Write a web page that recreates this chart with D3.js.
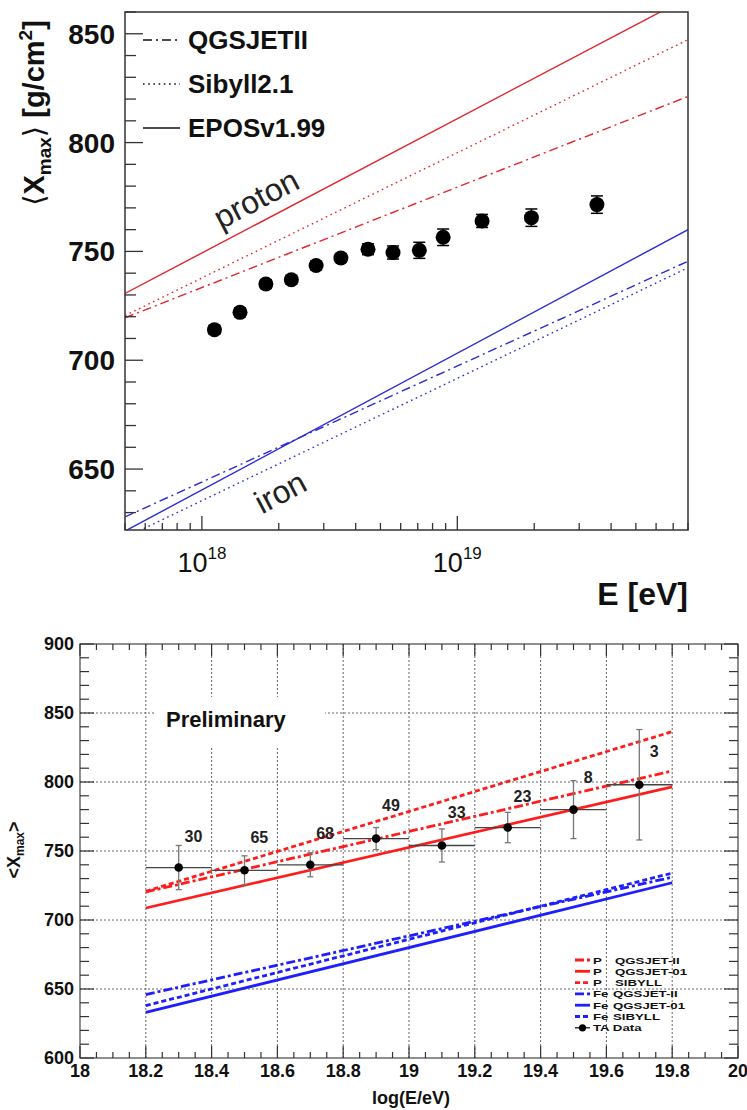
<!DOCTYPE html>
<html>
<head>
<meta charset="utf-8">
<script src="https://cdn.jsdelivr.net/npm/d3@7"></script>
<style>
  body { margin: 0; background: #fff; }
  svg { display: block; }
  text { font-family: "Liberation Sans", Arial, Helvetica, sans-serif; }
</style>
</head>
<body>
<svg id="chart" width="747" height="1110"></svg>
<script>
// ---- top panel: <Xmax> vs E, model lines + data ----
const augerE = [1.12e18, 1.41e18, 1.78e18, 2.24e18, 2.8e18, 3.5e18, 4.47e18, 5.6e18, 7.1e18, 8.8e18, 1.25e19, 1.95e19, 3.52e19];
const augerXmax = [714, 722, 735, 737, 743.5, 747, 751, 749.5, 750.5, 756.5, 764, 765.5, 771.5];
const augerErr = [2, 2, 2, 2, 2, 2, 2.5, 3, 3.7, 3.8, 3, 4, 4];

const modelE = [5e17, 8e19];
const protonEPOS = [730.7, 866.7];
const protonSibyll = [720.5, 847.3];
const protonQGSJET = [719.5, 821.2];
const ironEPOS = [621.5, 760];
const ironQGSJET = [628, 745.5];
const ironSibyll = [618.5, 742.5];

const topYTicks = [650, 700, 750, 800, 850];
const topLegend = ["QGSJETII", "Sibyll2.1", "EPOSv1.99"];

// ---- bottom panel: TA data vs log(E/eV) ----
const taLogE = [18.3, 18.5, 18.7, 18.9, 19.1, 19.3, 19.5, 19.7];
const taXmax = [738, 736, 740, 759, 754, 767, 780, 798];
const taErr = [16, 10.5, 8.7, 8, 12, 11, 21, 40];
const taCounts = [30, 65, 68, 49, 33, 23, 8, 3];
const countY = [761, 760, 763, 783, 778, 790, 803.5, 822];

const modelLogE = [18.2, 19.8];
const pQGSII = [720.3, 808];
const pQGS01 = [708.7, 796.5];
const pSIB = [720.8, 836.5];
const feQGSII = [646, 731];
const feQGS01 = [633, 727];
const feSIB = [638, 734];

const bottomXTicks = [18, 18.2, 18.4, 18.6, 18.8, 19, 19.2, 19.4, 19.6, 19.8, 20];
const bottomYTicks = [600, 650, 700, 750, 800, 850, 900];
const bottomLegend = [
  ["P", "QGSJET-II"], ["P", "QGSJET-01"], ["P", "SIBYLL"],
  ["Fe", "QGSJET-II"], ["Fe", "QGSJET-01"], ["Fe", "SIBYLL"], ["TA Data", ""]
];

const svg = d3.select("#chart");

const RED = "#e2252d", BLUE = "#2b2bd6";
const DOT = "1.6,3.6", DASHDOT = "9,4,2,4";

// ================= top =================
const tx = d3.scaleLog().domain([5e17, 8e19]).range([125, 688]);
const ty = d3.scaleLinear().domain([622, 860]).range([530, 12]);

svg.append("clipPath").attr("id", "clipTop")
  .append("rect").attr("x", 125).attr("y", 12).attr("width", 563).attr("height", 518);

const topG = svg.append("g");
const topLines = topG.append("g").attr("clip-path", "url(#clipTop)");

const tline = d3.line().x((d, i) => tx(modelE[i])).y(d => ty(d));
[
  [protonEPOS, RED, null], [protonSibyll, RED, DOT], [protonQGSJET, RED, DASHDOT],
  [ironEPOS, BLUE, null], [ironSibyll, BLUE, DOT], [ironQGSJET, BLUE, DASHDOT]
].forEach(([vals, col, dash]) => {
  topLines.append("path")
    .attr("d", tline(vals))
    .attr("fill", "none")
    .attr("stroke", col)
    .attr("stroke-width", 1.4)
    .attr("stroke-dasharray", dash);
});

// data points
const pts = topG.append("g");
augerE.forEach((e, i) => {
  const x = tx(e), y0 = ty(augerXmax[i] - augerErr[i]), y1 = ty(augerXmax[i] + augerErr[i]);
  pts.append("line").attr("x1", x).attr("x2", x).attr("y1", y0).attr("y2", y1)
    .attr("stroke", "#000").attr("stroke-width", 1.5);
  [y0, y1].forEach(y => pts.append("line").attr("x1", x - 6).attr("x2", x + 6)
    .attr("y1", y).attr("y2", y).attr("stroke", "#000").attr("stroke-width", 1.5));
  pts.append("circle").attr("cx", x).attr("cy", ty(augerXmax[i])).attr("r", 7.5).attr("fill", "#000");
});

// frame
topG.append("rect").attr("x", 125).attr("y", 12).attr("width", 563).attr("height", 518)
  .attr("fill", "none").attr("stroke", "#333").attr("stroke-width", 1.5);

// y ticks (inward)
d3.range(630, 861, 10).forEach(v => {
  const major = v % 50 === 0;
  topG.append("line").attr("x1", 125).attr("x2", 125 + (major ? 18 : 11))
    .attr("y1", ty(v)).attr("y2", ty(v)).attr("stroke", "#333").attr("stroke-width", 1.3);
});
topYTicks.forEach(v => {
  topG.append("text").attr("x", 115).attr("y", ty(v)).attr("dy", "0.36em")
    .attr("text-anchor", "end").attr("font-size", 28).attr("font-weight", "bold")
    .attr("fill", "#111").text(v);
});

// x ticks (log)
const xMinor = [];
[17, 18, 19].forEach(dec => d3.range(1, 10).forEach(m => {
  const e = m * Math.pow(10, dec);
  if (e >= 5e17 && e <= 8e19) xMinor.push(e);
}));
xMinor.forEach(e => {
  const major = Math.abs(Math.log10(e) - Math.round(Math.log10(e))) < 1e-9;
  topG.append("line").attr("x1", tx(e)).attr("x2", tx(e))
    .attr("y1", 530).attr("y2", 530 - (major ? 14 : 7))
    .attr("stroke", "#333").attr("stroke-width", 1.3);
});
[1e18, 1e19].forEach(e => {
  const t = topG.append("text").attr("x", tx(e)).attr("y", 572)
    .attr("text-anchor", "middle").attr("font-size", 27).attr("fill", "#111");
  t.append("tspan").text("10");
  t.append("tspan").attr("font-size", 17).attr("dy", -13).text(Math.round(Math.log10(e)));
});

// axis titles
topG.append("text").attr("x", 688).attr("y", 605).attr("text-anchor", "end")
  .attr("font-size", 32).attr("font-weight", "bold").attr("fill", "#111").text("E [eV]");

const yt = topG.append("text").attr("transform", "translate(44,113) rotate(-90)")
  .attr("text-anchor", "middle").attr("font-size", 29).attr("font-weight", "bold").attr("fill", "#111");
yt.append("tspan").attr("font-weight", "normal").attr("font-family", "DejaVu Sans").text("\u27E8");
yt.append("tspan").text("X");
yt.append("tspan").attr("font-size", 19).attr("dy", 7).text("max");
yt.append("tspan").attr("dy", -7).attr("font-weight", "normal").attr("font-family", "DejaVu Sans").text("\u27E9");
yt.append("tspan").text(" [g/cm");
yt.append("tspan").attr("font-size", 19).attr("dy", -12).text("2");
yt.append("tspan").attr("dy", 12).text("]");

// legend
const legDash = [DASHDOT, DOT, null];
topLegend.forEach((name, i) => {
  const y = 40 + i * 44;
  topG.append("line").attr("x1", 143).attr("x2", 180).attr("y1", y).attr("y2", y)
    .attr("stroke", "#111").attr("stroke-width", 1.4).attr("stroke-dasharray", legDash[i]);
  topG.append("text").attr("x", 188).attr("y", y).attr("dy", "0.36em")
    .attr("font-size", 26).attr("font-weight", "bold").attr("fill", "#111").text(name);
});

// annotations
topG.append("text").attr("transform", `translate(${tx(1.64e18)},${ty(773.6)}) rotate(-27.7)`)
  .attr("text-anchor", "middle").attr("dy", "0.3em").attr("font-size", 32).attr("fill", "#222").text("proton");
topG.append("text").attr("transform", `translate(${tx(2.04e18)},${ty(638.8)}) rotate(-28)`)
  .attr("text-anchor", "middle").attr("dy", "0.3em").attr("font-size", 32).attr("fill", "#222").text("iron");

// ================= bottom =================
const bx = d3.scaleLinear().domain([18, 20]).range([80, 738]);
const by = d3.scaleLinear().domain([600, 900]).range([1058, 644]);
const bot = svg.append("g");

// grid
const grid = bot.append("g").attr("stroke", "#555").attr("stroke-width", 0.9).attr("stroke-dasharray", "2,2");
bottomXTicks.slice(1, -1).forEach(v => grid.append("line")
  .attr("x1", bx(v)).attr("x2", bx(v)).attr("y1", 644).attr("y2", 1058));
bottomYTicks.slice(1, -1).forEach(v => grid.append("line")
  .attr("x1", 80).attr("x2", 738).attr("y1", by(v)).attr("y2", by(v)));

// "Preliminary" label on a white box
bot.append("rect").attr("x", 155).attr("y", 697).attr("width", 170).attr("height", 49).attr("fill", "#fff");
bot.append("text").attr("x", 166).attr("y", 727).attr("font-size", 22).attr("font-weight", "bold")
  .attr("fill", "#111").text("Preliminary");

// model lines
const bline = d3.line().x((d, i) => bx(modelLogE[i])).y(d => by(d));
const BRED = "#ff1c1c", BBLUE = "#1e1eff";
const BDASH = "5,3", BDASHDOT = "9,3,3,3";
const bModels = [
  [pQGSII, BRED, BDASHDOT], [pQGS01, BRED, null], [pSIB, BRED, BDASH],
  [feQGSII, BBLUE, BDASHDOT], [feQGS01, BBLUE, null], [feSIB, BBLUE, BDASH]
];
bModels.forEach(([vals, col, dash]) => {
  bot.append("path").attr("d", bline(vals)).attr("fill", "none")
    .attr("stroke", col).attr("stroke-width", 2.8).attr("stroke-dasharray", dash);
});

// data with error bars
taLogE.forEach((l, i) => {
  const x = bx(l), y = by(taXmax[i]);
  const ylo = by(taXmax[i] - taErr[i]), yhi = by(taXmax[i] + taErr[i]);
  bot.append("line").attr("x1", bx(l - 0.1)).attr("x2", bx(l + 0.1)).attr("y1", y).attr("y2", y)
    .attr("stroke", "#444").attr("stroke-width", 1.3);
  bot.append("line").attr("x1", x).attr("x2", x).attr("y1", ylo).attr("y2", yhi)
    .attr("stroke", "#777").attr("stroke-width", 1.3);
  [ylo, yhi].forEach(yy => bot.append("line").attr("x1", x - 3).attr("x2", x + 3)
    .attr("y1", yy).attr("y2", yy).attr("stroke", "#777").attr("stroke-width", 1.3));
  bot.append("circle").attr("cx", x).attr("cy", y).attr("r", 4.3).attr("fill", "#000");
  bot.append("text").attr("x", bx(l + 0.045)).attr("y", by(countY[i])).attr("dy", "0.36em")
    .attr("text-anchor", "middle").attr("font-size", 16).attr("font-weight", "bold")
    .attr("fill", "#222").text(taCounts[i]);
});

// frame + ticks
bot.append("rect").attr("x", 80).attr("y", 644).attr("width", 658).attr("height", 414)
  .attr("fill", "none").attr("stroke", "#444").attr("stroke-width", 1.2);
const ticks = bot.append("g").attr("stroke", "#333").attr("stroke-width", 1.2);
d3.range(0, 41).forEach(k => {
  const v = 18 + k * 0.05, major = k % 4 === 0, len = major ? 12 : 6;
  ticks.append("line").attr("x1", bx(v)).attr("x2", bx(v)).attr("y1", 1058).attr("y2", 1058 - len);
  ticks.append("line").attr("x1", bx(v)).attr("x2", bx(v)).attr("y1", 644).attr("y2", 644 + len);
});
d3.range(0, 31).forEach(k => {
  const v = 600 + k * 10, major = k % 5 === 0, len = major ? 14 : 9;
  ticks.append("line").attr("x1", 80).attr("x2", 80 + len).attr("y1", by(v)).attr("y2", by(v));
  ticks.append("line").attr("x1", 738).attr("x2", 738 - len).attr("y1", by(v)).attr("y2", by(v));
});

bottomXTicks.forEach(v => bot.append("text").attr("x", bx(v)).attr("y", 1077)
  .attr("text-anchor", "middle").attr("font-size", 18).attr("font-weight", "bold")
  .attr("fill", "#111").text(d3.format("~g")(v)));
bottomYTicks.forEach(v => bot.append("text").attr("x", 74).attr("y", by(v)).attr("dy", "0.36em")
  .attr("text-anchor", "end").attr("font-size", 18).attr("font-weight", "bold")
  .attr("fill", "#111").text(v));

bot.append("text").attr("x", 450).attr("y", 1104).attr("text-anchor", "end")
  .attr("font-size", 18).attr("font-weight", "bold").attr("fill", "#111").text("log(E/eV)");
const byt = bot.append("text").attr("transform", "translate(20,850) rotate(-90)")
  .attr("text-anchor", "middle").attr("font-size", 18).attr("font-weight", "bold").attr("fill", "#111");
byt.append("tspan").text("<X");
byt.append("tspan").attr("font-size", 12).attr("dy", 4).text("max");
byt.append("tspan").attr("dy", -4).text(">");

// legend (tight rows, glyphs stretched a little like the original)
const legStyles = [
  [BRED, BDASHDOT], [BRED, null], [BRED, BDASH],
  [BBLUE, BDASHDOT], [BBLUE, null], [BBLUE, BDASH]
];
const legFont = 9.8;
const stretch = t => t.attr("textLength", t.node().getComputedTextLength() * 1.35)
  .attr("lengthAdjust", "spacingAndGlyphs");
bottomLegend.forEach(([a, b], i) => {
  const y = 960 + i * 11.3;
  if (i < 6) {
    bot.append("line").attr("x1", 575).attr("x2", 590).attr("y1", y).attr("y2", y)
      .attr("stroke", legStyles[i][0]).attr("stroke-width", 2.8).attr("stroke-dasharray", legStyles[i][1]);
  } else {
    bot.append("line").attr("x1", 575).attr("x2", 590).attr("y1", y).attr("y2", y)
      .attr("stroke", "#000").attr("stroke-width", 1.2);
    bot.append("circle").attr("cx", 582.5).attr("cy", y).attr("r", 3.6).attr("fill", "#000");
  }
  stretch(bot.append("text").attr("x", 593).attr("y", y).attr("dy", "0.36em")
    .attr("font-size", legFont).attr("font-weight", "bold").attr("fill", "#111").text(a));
  if (b) {
    stretch(bot.append("text").attr("x", a === "P" ? 615 : 613).attr("y", y).attr("dy", "0.36em")
      .attr("font-size", legFont).attr("font-weight", "bold").attr("fill", "#111").text(b));
  }
});
</script>
</body>
</html>
